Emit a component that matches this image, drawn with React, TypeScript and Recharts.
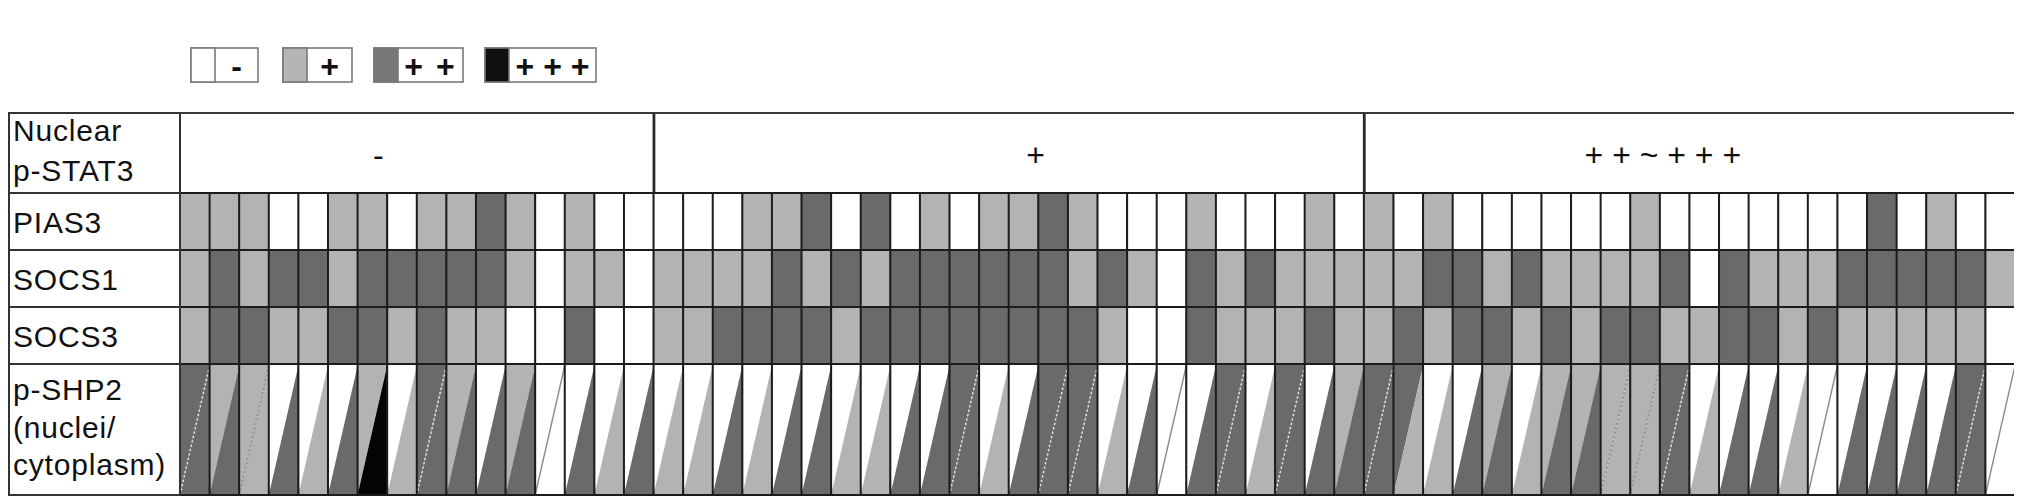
import React from "react";
import { BarChart, Bar, XAxis, YAxis, Customized } from "recharts";

// scoring: 0 = "-", 1 = "+", 2 = "++", 3 = "+++"
const GROUP_LABELS = ["-", "+", "+ + ~ + + +"];
const GROUP_SIZES = [16, 24, 22];

const PIAS3 = [
  1, 1, 1, 0, 0, 1, 1, 0, 1, 1, 2, 1, 0, 1, 0, 0,
  0, 0, 0, 1, 1, 2, 0, 2, 0, 1, 0, 1, 1, 2, 1, 0, 0, 0, 1, 0, 0, 0, 1, 0,
  1, 0, 1, 0, 0, 0, 0, 0, 0, 1, 0, 0, 0, 0, 0, 0, 0, 2, 0, 1, 0, 0,
];
const SOCS1 = [
  1, 2, 1, 2, 2, 1, 2, 2, 2, 2, 2, 1, 0, 1, 1, 0,
  1, 1, 1, 1, 2, 1, 2, 1, 2, 2, 2, 2, 2, 2, 1, 2, 1, 0, 2, 1, 2, 1, 1, 1,
  1, 1, 2, 2, 1, 2, 1, 1, 1, 1, 2, 0, 2, 1, 1, 1, 2, 2, 2, 2, 2, 1,
];
const SOCS3 = [
  1, 2, 2, 1, 1, 2, 2, 1, 2, 1, 1, 0, 0, 2, 0, 0,
  1, 1, 2, 2, 2, 2, 1, 2, 2, 2, 2, 2, 2, 2, 2, 1, 0, 0, 2, 1, 1, 1, 2, 1,
  1, 2, 1, 2, 2, 1, 2, 1, 2, 2, 1, 1, 2, 2, 1, 2, 1, 1, 1, 1, 1, 0,
];
// p-SHP2: upper-left triangle = nuclei, lower-right triangle = cytoplasm
const SHP2_NUCLEI = [
  2, 1, 1, 0, 0, 0, 1, 0, 2, 1, 0, 1, 0, 0, 0, 0,
  0, 0, 0, 0, 0, 0, 0, 0, 0, 0, 2, 0, 0, 2, 2, 0, 0, 0, 0, 2, 0, 2, 0, 1,
  2, 2, 0, 0, 1, 0, 1, 1, 1, 1, 2, 0, 0, 0, 0, 0, 0, 0, 0, 0, 2, 0,
];
const SHP2_CYTO = [
  2, 2, 1, 2, 1, 2, 3, 1, 2, 2, 2, 2, 0, 2, 1, 2,
  1, 1, 2, 1, 2, 2, 1, 1, 2, 2, 2, 1, 2, 2, 2, 1, 2, 0, 2, 2, 1, 2, 2, 2,
  2, 1, 1, 2, 2, 1, 2, 2, 1, 1, 2, 1, 2, 2, 1, 0, 2, 2, 2, 2, 2, 0,
];

const ROW_LABELS = [
  ["Nuclear", "p-STAT3"],
  ["PIAS3"],
  ["SOCS1"],
  ["SOCS3"],
  ["p-SHP2", "(nuclei/", "cytoplasm)"],
];
const LEGEND_LABELS = ["-", "+", "+ +", "+ + +"];

// layout
const FONT = "'Liberation Sans', Arial, sans-serif";
const FILL = ["#ffffff", "#b3b3b3", "#6a6a6a", "#040404"];
const LEGEND_FILL = ["#ffffff", "#b5b5b5", "#777777", "#101010"];
const GRID = "#1c1c1c";
const ROW_SPAN = [80, 57, 57, 57, 131]; // top to bottom, 1 unit = 1px
const GROUP_LABEL_AT = [6.69, 28.9, 50.1]; // column position of each group label
const TOTAL = ROW_SPAN.reduce((a, b) => a + b, 0);

const groupStarts = GROUP_SIZES.map((_, g) => GROUP_SIZES.slice(0, g).reduce((a, b) => a + b, 0));

const data = PIAS3.map((_, i) => ({
  col: i,
  head: ROW_SPAN[0],
  pias3: ROW_SPAN[1],
  socs1: ROW_SPAN[2],
  socs3: ROW_SPAN[3],
  shp2: ROW_SPAN[4],
  pias3Lv: PIAS3[i],
  socs1Lv: SOCS1[i],
  socs3Lv: SOCS3[i],
  nuc: SHP2_NUCLEI[i],
  cyt: SHP2_CYTO[i],
  gStart: groupStarts.includes(i),
  gEnd: groupStarts.includes(i + 1) || i === PIAS3.length - 1,
}));

// row centres in axis units (0 at the bottom)
const rowTicks = ROW_SPAN.map((s, r) => TOTAL - ROW_SPAN.slice(0, r).reduce((a, b) => a + b, 0) - s / 2);

const cellShape = (key: string) => (p: any) => (
  <rect
    x={p.x}
    y={p.y}
    width={p.width}
    height={p.height}
    fill={FILL[p.payload[key]]}
    stroke={GRID}
    strokeWidth={2}
  />
);

const ShpCell = (p: any) => {
  const { x, y, width: w, height: h, payload } = p;
  const n = payload.nuc;
  const c = payload.cyt;
  let diag = null;
  if (n === c && n === 0) {
    diag = <line x1={x} y1={y + h} x2={x + w} y2={y} stroke="#8c8c8c" strokeWidth={1.4} />;
  } else if (n === c) {
    diag = (
      <line
        x1={x}
        y1={y + h}
        x2={x + w}
        y2={y}
        stroke={n === 2 ? "#e4e4e4" : "#8e8e8e"}
        strokeWidth={1.6}
        strokeDasharray="2 2.5"
      />
    );
  }
  return (
    <g>
      <polygon points={`${x},${y} ${x + w},${y} ${x},${y + h}`} fill={FILL[n]} />
      <polygon points={`${x + w},${y} ${x + w},${y + h} ${x},${y + h}`} fill={FILL[c]} />
      {diag}
      <rect x={x} y={y} width={w} height={h} fill="none" stroke={GRID} strokeWidth={2} />
    </g>
  );
};

const HeadCell = (p: any) => {
  const { x, y, width: w, height: h, payload, index } = p;
  const g = GROUP_LABEL_AT.findIndex((a) => Math.floor(a) === index);
  return (
    <g>
      <line x1={x - 1} x2={x + w + 1} y1={y} y2={y} stroke="#3a3a3a" strokeWidth={2} />
      <line x1={x - 1} x2={x + w + 1} y1={y + h} y2={y + h} stroke={GRID} strokeWidth={2} />
      {payload.gStart && <line x1={x} x2={x} y1={y} y2={y + h} stroke="#2a2a2a" strokeWidth={2} />}
      {payload.gEnd && <line x1={x + w + 0.4} x2={x + w + 0.4} y1={y} y2={y + h} stroke="#2a2a2a" strokeWidth={2} />}
      {g >= 0 && (
        <text
          x={x + (GROUP_LABEL_AT[g] - index) * w}
          y={y + h / 2 + 2}
          textAnchor="middle"
          dominantBaseline="central"
          fontFamily={FONT}
          fontSize={32}
          fill="#111"
        >
          {GROUP_LABELS[g]}
        </text>
      )}
    </g>
  );
};

const RowTick = (p: any) => {
  const { x, y, payload } = p;
  const r = rowTicks.findIndex((t) => Math.abs(t - payload.value) < 0.01);
  if (r < 0) return <g />;
  const h = ROW_SPAN[r];
  const lines = ROW_LABELS[r];
  const n = lines.length;
  const pitch = n === 2 ? 40 : 37.5;
  const base = y + (n === 1 ? 11 : 8) - ((n - 1) / 2) * pitch;
  return (
    <g>
      <rect x={1} y={y - h / 2} width={x - 1} height={h} fill="#fff" stroke="#333" strokeWidth={2} />
      {lines.map((t, k) => (
        <text
          key={k}
          x={5}
          y={base + k * pitch}
          fontFamily={FONT}
          fontSize={30}
          letterSpacing={0.8}
          fill="#111"
        >
          {t}
        </text>
      ))}
    </g>
  );
};

const LegendBoxes = () => {
  const boxX = [183, 275, 366, 477];
  const boxW = [67, 69, 89, 111];
  const sw = 24;
  return (
    <g>
      {LEGEND_LABELS.map((label, i) => (
        <g key={i}>
          <rect x={boxX[i]} y={40} width={boxW[i]} height={34} fill="#fff" stroke="#7a7a7a" strokeWidth={1.6} />
          <rect x={boxX[i]} y={40} width={sw} height={34} fill={LEGEND_FILL[i]} stroke="#7a7a7a" strokeWidth={1.6} />
          <text
            x={boxX[i] + sw + (boxW[i] - sw) / 2}
            y={58}
            textAnchor="middle"
            dominantBaseline="central"
            fontFamily={FONT}
            fontSize={32}
            fontWeight="bold"
            letterSpacing={i === 2 ? 2 : 0}
            fill="#111"
          >
            {label}
          </text>
        </g>
      ))}
    </g>
  );
};

export default function App() {
  return (
    <BarChart
      width={2014}
      height={492}
      data={data}
      margin={{ top: 105, right: 7, bottom: 5, left: 0 }}
      barCategoryGap={0}
      barGap={0}
    >
      <XAxis dataKey="col" hide />
      <YAxis
        type="number"
        domain={[0, TOTAL]}
        ticks={rowTicks}
        interval={0}
        width={172}
        axisLine={false}
        tickLine={false}
        tickSize={0}
        tickMargin={0}
        tick={(p: any) => <RowTick {...p} />}
      />
      <Bar dataKey="shp2" stackId="t" isAnimationActive={false} shape={(p: any) => <ShpCell {...p} />} />
      <Bar dataKey="socs3" stackId="t" isAnimationActive={false} shape={cellShape("socs3Lv")} />
      <Bar dataKey="socs1" stackId="t" isAnimationActive={false} shape={cellShape("socs1Lv")} />
      <Bar dataKey="pias3" stackId="t" isAnimationActive={false} shape={cellShape("pias3Lv")} />
      <Bar dataKey="head" stackId="t" isAnimationActive={false} shape={(p: any) => <HeadCell {...p} />} />
      <Customized component={<LegendBoxes />} />
    </BarChart>
  );
}
